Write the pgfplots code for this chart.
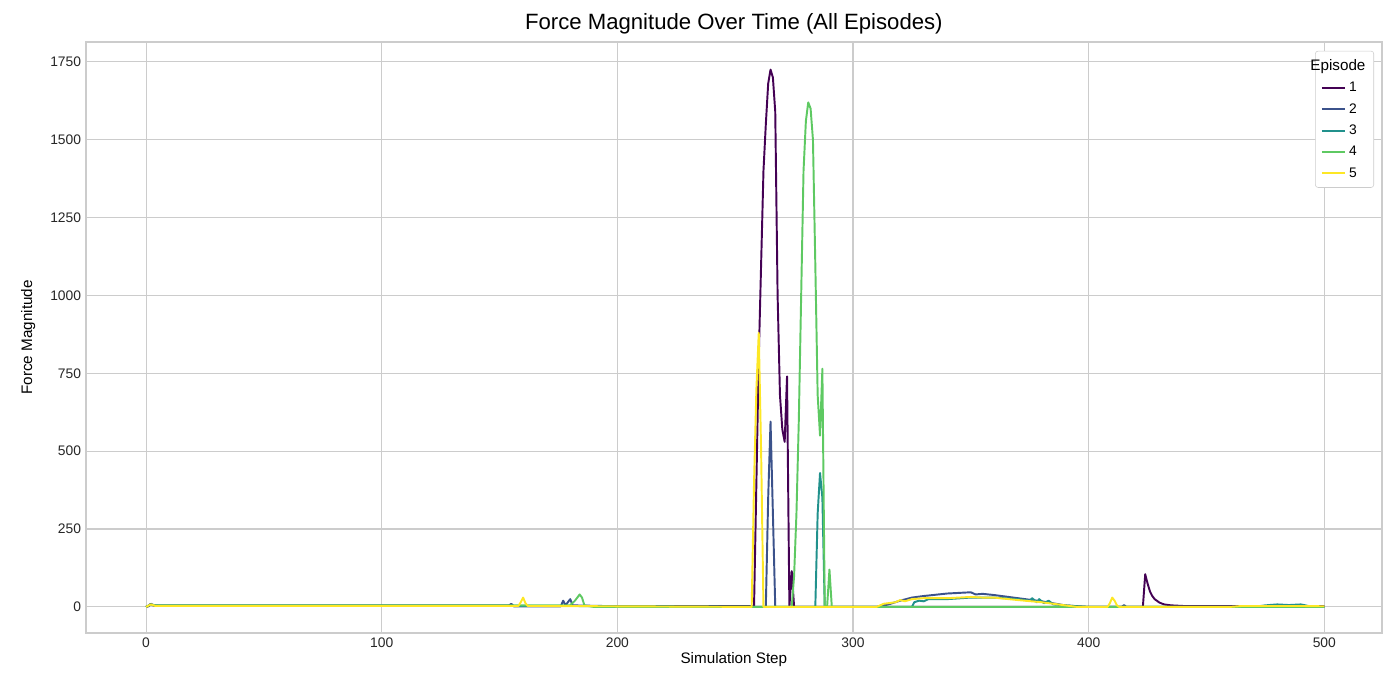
\documentclass[border=0pt]{standalone}
\usepackage{pgfplots}
\pgfplotsset{compat=1.18}
\usepackage{fontspec}
\setmainfont{Liberation Sans}
\definecolor{e1}{HTML}{440154}
\definecolor{e2}{HTML}{3B528B}
\definecolor{e3}{HTML}{21918C}
\definecolor{e4}{HTML}{5EC962}
\definecolor{e5}{HTML}{FDE725}
\definecolor{gridc}{HTML}{CCCCCC}
\begin{document}
\begin{tikzpicture}
\useasboundingbox (-61.9bp,-48.2bp) rectangle (946.1bp,455.7bp);
\begin{axis}[scale only axis, width=933bp, height=425.5bp,
  xmin=-25.5, xmax=524.4, ymin=-83.5, ymax=1814,
  xtick={0,100,...,500}, ytick={0,250,...,1750},
  grid=major, major grid style={gridc, line width=0.8pt},
  axis line style={gridc, line width=1pt}, tick style={draw=none},
  ticklabel style={font=\fontsize{10}{12}\selectfont, text=black!85},
  /pgf/number format/assume math mode=true,
  /pgf/number format/set thousands separator={},
  xlabel={Simulation Step}, ylabel={Force Magnitude},
  label style={font=\fontsize{11}{13}\selectfont},
  xlabel style={yshift=3pt}, ylabel style={yshift=4pt},
  title={Force Magnitude Over Time (All Episodes)},
  title style={font=\fontsize{16}{19}\selectfont, yshift=-4pt},
  legend style={at={(0.994,0.985)}, anchor=north east,
    font=\fontsize{10}{12}\selectfont, draw=gridc, rounded corners=2pt,
    row sep=3pt, inner sep=4pt},
  legend image post style={line width=1.4pt},
  legend cell align=left,
  every axis plot/.append style={line width=1.4pt, line join=round},
]
\addlegendimage{empty legend}\addlegendentry{\hspace{-28pt}\fontsize{11}{13}\selectfont Episode}
\addplot[e1] coordinates {(0,0)(1,2)(2,10)(3,5)(5,3)(100,3)(257,3)(258,0)(259,400)(260,800)(261,1100)(262,1400)(263,1550)(264,1680)(265,1725)(266,1700)(267,1590)(268,1000)(269,680)(270,570)(271,530)(272,740)(273,0)(274,115)(275,0)(310,0)(400,0)(423,0)(424,105)(425,75)(426,50)(427,35)(428,25)(430,14)(432,8)(435,5)(440,3)(500,3)};
\addlegendentry{1}
\addplot[e2] coordinates {(0,0)(2,8)(4,5)(100,5)(154,5)(155,10)(156,2)(160,2)(176,2)(177,20)(178,5)(180,25)(181,5)(200,2)(262,0)(263,0)(264,350)(265,595)(266,300)(267,0)(310,0)(315,8)(320,20)(325,30)(330,35)(340,43)(350,47)(352,40)(355,42)(360,38)(370,28)(380,18)(390,5)(400,0)(414,0)(415,6)(416,0)(500,0)};
\addlegendentry{2}
\addplot[e3] coordinates {(0,0)(2,8)(4,3)(100,3)(160,3)(180,3)(200,2)(283,0)(284,0)(285,300)(286,430)(287,350)(288,0)(325,0)(326,15)(328,20)(330,18)(332,25)(340,25)(350,30)(360,30)(370,25)(375,20)(376,28)(378,15)(379,25)(381,12)(383,20)(385,8)(395,2)(400,0)(470,0)(475,5)(480,8)(485,6)(490,8)(492,5)(495,0)(500,0)};
\addlegendentry{3}
\addplot[e4] coordinates {(0,0)(2,8)(4,5)(100,5)(160,5)(180,5)(182,20)(184,40)(185,30)(186,5)(190,0)(274,0)(275,100)(276,300)(277,600)(278,1000)(279,1400)(280,1560)(281,1620)(282,1600)(283,1500)(284,1100)(285,680)(286,550)(287,765)(288,0)(289,0)(290,120)(291,0)(500,0)};
\addlegendentry{4}
\addplot[e5] coordinates {(0,0)(2,8)(4,3)(100,3)(158,3)(159,15)(160,30)(161,12)(162,3)(200,2)(256,0)(257,0)(258,400)(259,700)(260,880)(261,500)(262,0)(310,0)(313,10)(318,15)(320,22)(322,18)(325,25)(330,28)(340,28)(350,32)(355,30)(360,30)(362,28)(370,22)(380,15)(390,5)(395,0)(408,0)(409,12)(410,30)(411,20)(412,5)(413,0)(460,0)(465,3)(490,3)(500,2)};
\addlegendentry{5}
\end{axis}
\end{tikzpicture}
\end{document}
